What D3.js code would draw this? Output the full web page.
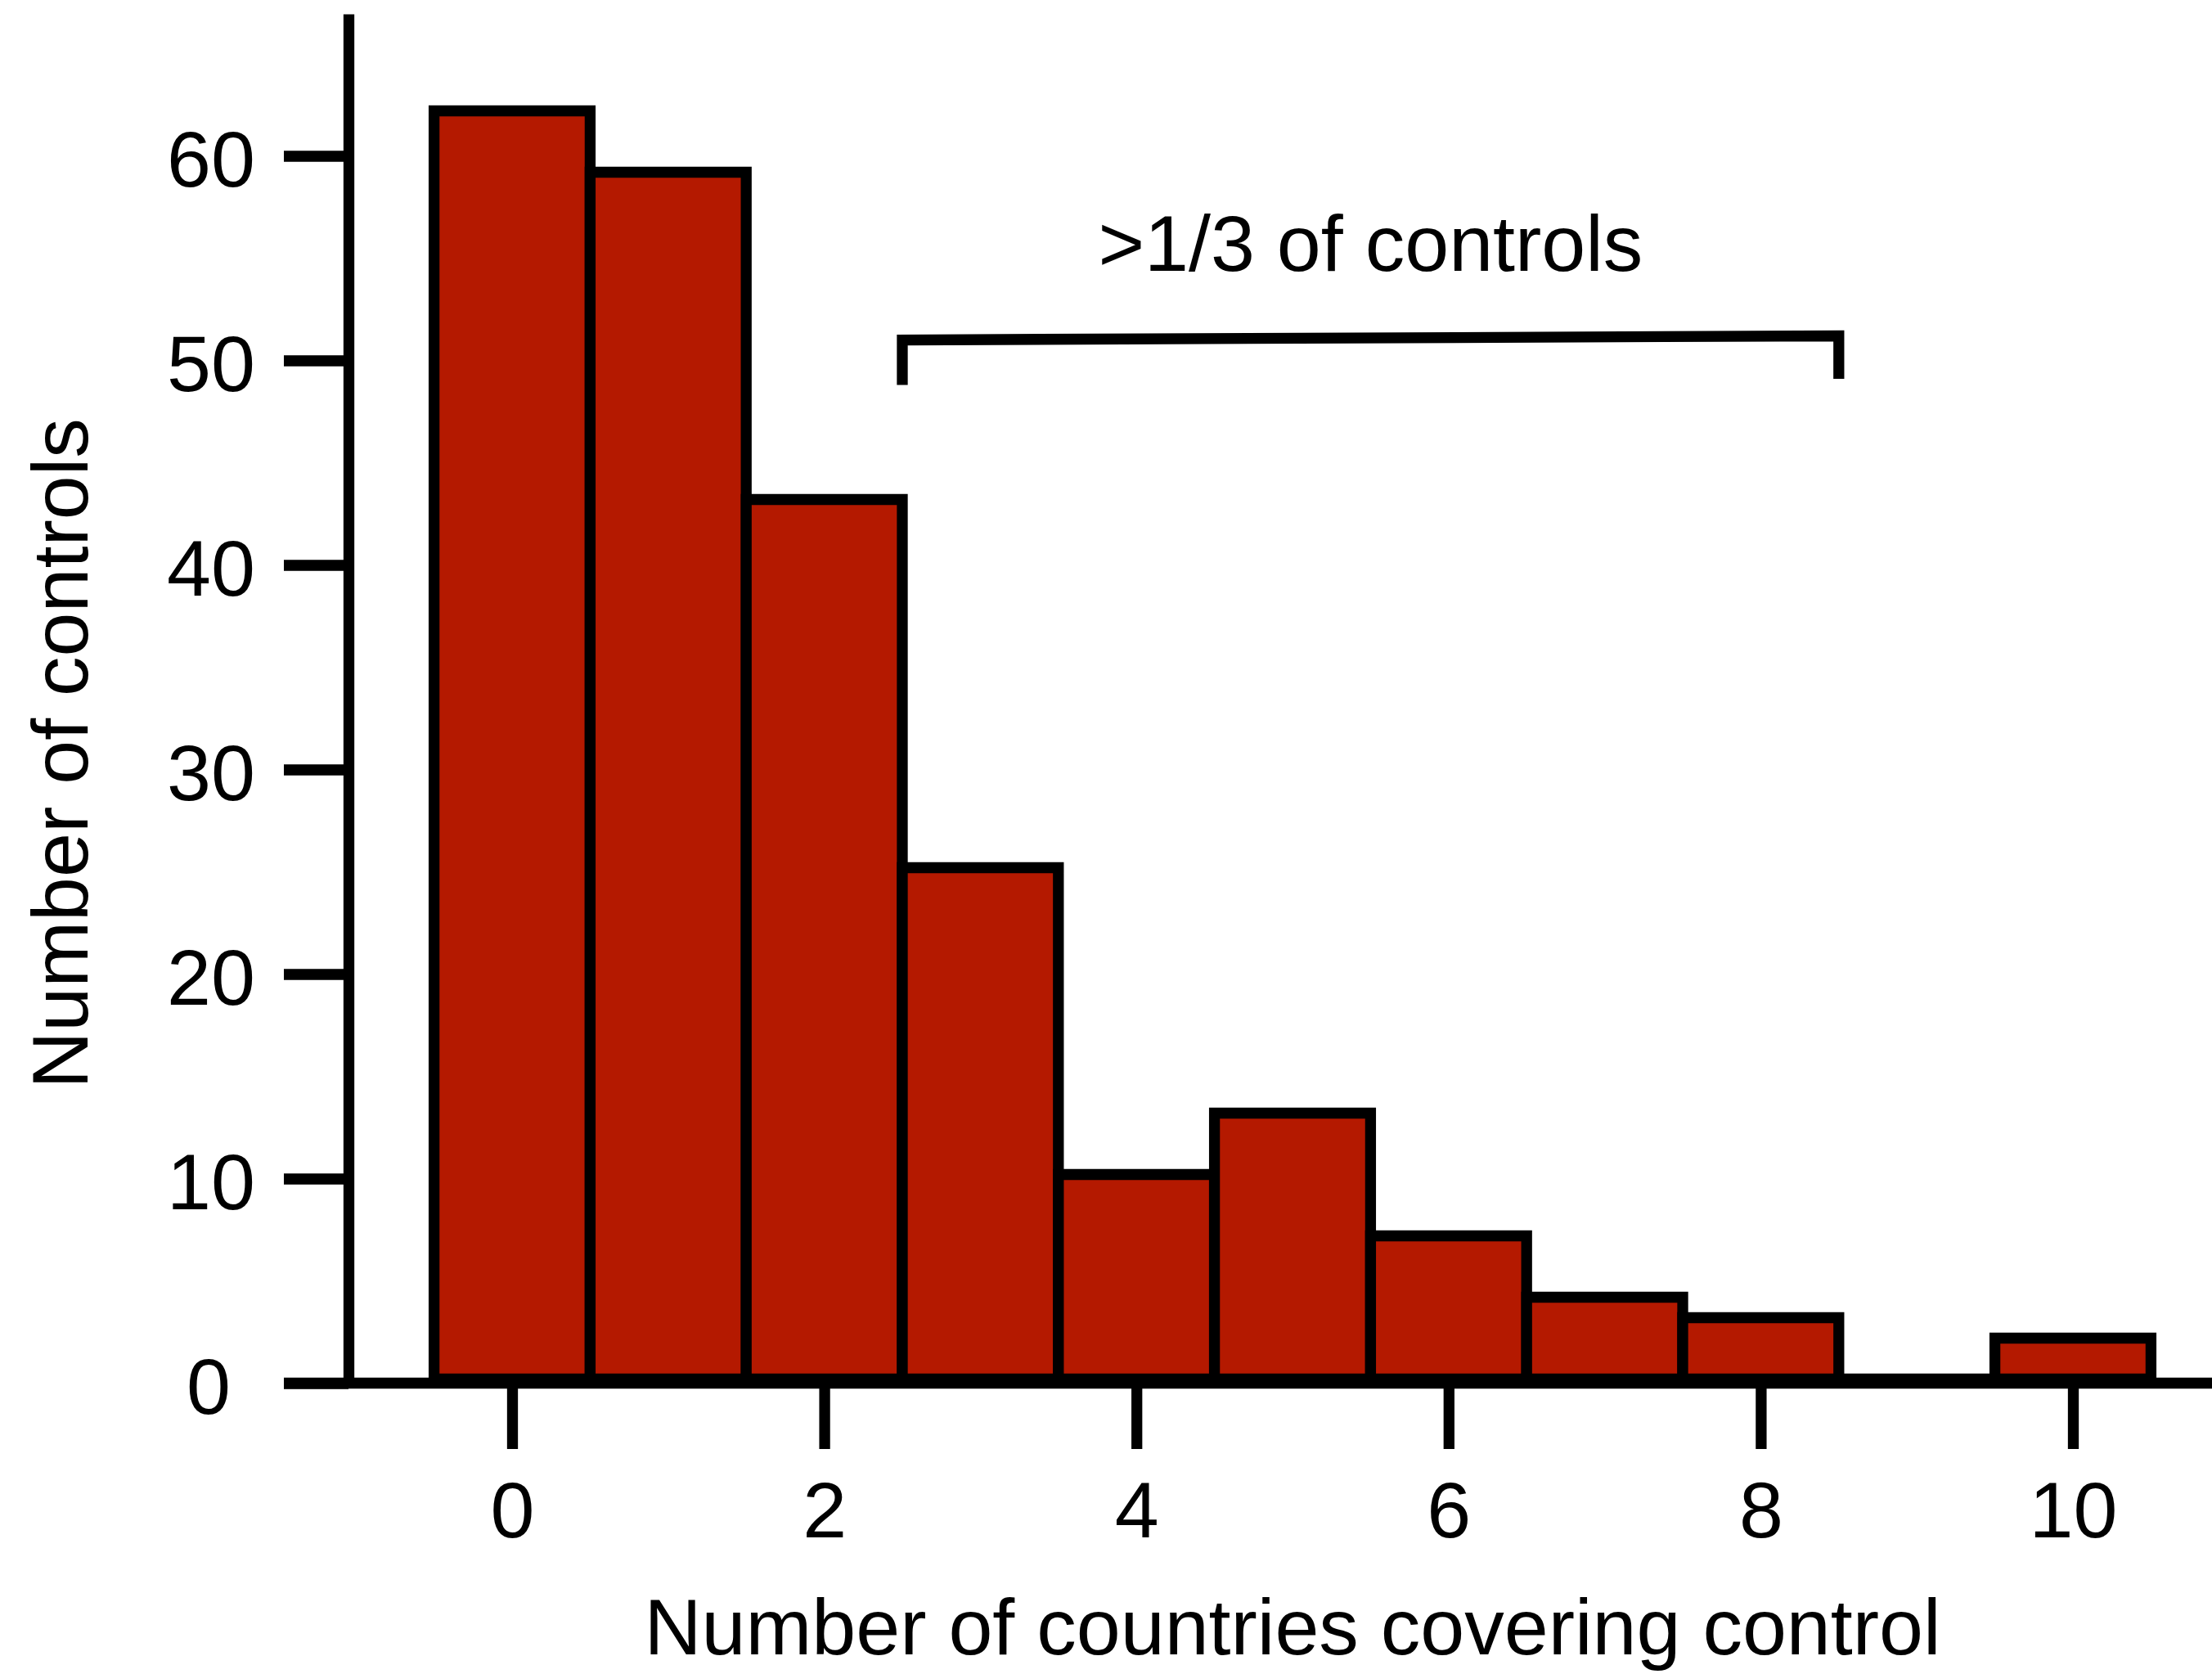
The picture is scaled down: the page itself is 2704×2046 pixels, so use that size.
<!DOCTYPE html>
<html>
<head>
<meta charset="utf-8">
<script src="https://cdn.jsdelivr.net/npm/d3@7"></script>
<style>
  html, body { margin: 0; padding: 0; background: #ffffff; }
  svg { display: block; }
  text { font-family: "Liberation Sans", Arial, Helvetica, sans-serif; fill: #000; }
</style>
</head>
<body>
<script>
// ---- data ----
const categories = [0, 1, 2, 3, 4, 5, 6, 7, 8, 9, 10];
const counts     = [62, 59, 43, 25, 10, 13, 7, 4, 3, 0, 2];
const yTicks = [0, 10, 20, 30, 40, 50, 60];
const xTicks = [0, 2, 4, 6, 8, 10];
const xLabel = "Number of countries covering control";
const yLabel = "Number of controls";
const annotationText = ">1/3 of controls";
const annotationPos = [5.5, 54.4];
const bracketX = [2.5, 8.5];
const bracketTop = [51.0, 51.2];
const bracketBottom = [48.8, 49.1];

// ---- layout ----
const W = 2704, H = 2046;
const SW = 13.3;
const FS = 97;
const barColor = "#b41900";

const svg = d3.select("body").append("svg")
  .attr("width", W).attr("height", H)
  .attr("viewBox", `0 0 ${W} ${H}`);

const x = d3.scaleLinear().domain([-0.5, 10.5]).range([530.6, 2629.4]);
const y = d3.scaleLinear().domain([0, 66.94]).range([1690.5, 17]);
const axisX = 426;      // pixel position of the y-axis line
const barShift = -5;    // bars sit slightly above the axis line

// baseline (x axis line)
svg.append("line")
  .attr("x1", 347).attr("x2", W)
  .attr("y1", y(0)).attr("y2", y(0))
  .attr("stroke", "#000").attr("stroke-width", SW);

// y axis
const yAxis = d3.axisLeft(y)
  .tickValues(yTicks)
  .tickSize(axisX - 347)
  .tickSizeOuter(0)
  .tickPadding(35)
  .tickFormat(d3.format("d"));
const gy = svg.append("g").attr("transform", `translate(${axisX},0)`).call(yAxis);
gy.select(".domain").attr("stroke", "#000").attr("stroke-width", SW);
gy.selectAll(".tick line").attr("stroke", "#000").attr("stroke-width", SW);
gy.selectAll(".tick text")
  .attr("font-size", FS)
  .attr("font-family", "Liberation Sans, Arial, Helvetica, sans-serif")
  .attr("dy", "0.38em");
gy.selectAll(".tick").filter(d => d === 0).select("text").attr("dx", -30);

// x axis
const xAxis = d3.axisBottom(x)
  .tickValues(xTicks)
  .tickSize(80.5)
  .tickSizeOuter(0)
  .tickPadding(39.5)
  .tickFormat(d3.format("d"));
const gx = svg.append("g").attr("transform", `translate(0,${y(0)})`).call(xAxis);
gx.select(".domain").remove();
gx.selectAll(".tick line").attr("stroke", "#000").attr("stroke-width", SW);
gx.selectAll(".tick text")
  .attr("font-size", FS)
  .attr("font-family", "Liberation Sans, Arial, Helvetica, sans-serif");

// bars
const bars = svg.append("g").attr("transform", `translate(0,${barShift})`);
bars.selectAll("path.bar")
  .data(categories.map((c, i) => ({ c, v: counts[i] })))
  .join("path")
  .attr("class", "bar")
  .attr("d", d => {
    const x0 = x(d.c - 0.5), x1 = x(d.c + 0.5);
    const yb = y(0), yt = y(d.v);
    return `M${x0},${yb}V${yt}H${x1}V${yb}Z`;
  })
  .attr("fill", barColor)
  .attr("stroke", "#000")
  .attr("stroke-width", SW)
  .attr("stroke-linejoin", "miter");

// bracket annotation
const bracketPath = d3.line()([
  [x(bracketX[0]), y(bracketBottom[0])],
  [x(bracketX[0]), y(bracketTop[0])],
  [x(bracketX[1]), y(bracketTop[1])],
  [x(bracketX[1]), y(bracketBottom[1])]
]);
svg.append("path")
  .attr("d", bracketPath)
  .attr("fill", "none")
  .attr("stroke", "#000")
  .attr("stroke-width", SW)
  .attr("stroke-linejoin", "miter");

svg.append("text")
  .attr("x", x(annotationPos[0]))
  .attr("y", y(annotationPos[1]))
  .attr("text-anchor", "middle")
  .attr("font-size", FS)
  .text(annotationText);

// axis titles
svg.append("text")
  .attr("x", 1580)
  .attr("y", 2022)
  .attr("text-anchor", "middle")
  .attr("font-size", FS)
  .text(xLabel);

svg.append("text")
  .attr("transform", `translate(107,921) rotate(-90)`)
  .attr("text-anchor", "middle")
  .attr("font-size", FS)
  .text(yLabel);
</script>
</body>
</html>
